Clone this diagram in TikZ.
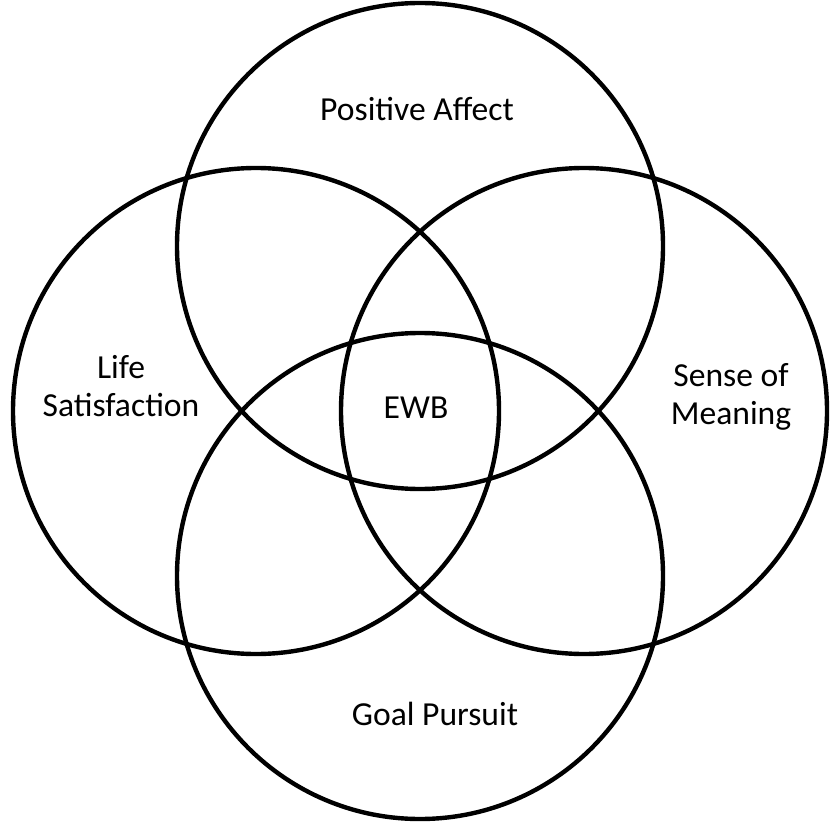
\documentclass[tikz,border=0pt]{standalone}
\usepackage{fontspec}
\setmainfont{Carlito}
\begin{document}
\begin{tikzpicture}[x=0.5pt,y=-0.5pt,
  ring/.style={circle,draw=black,line width=2.2pt,minimum size=243pt,inner sep=0pt},
  lbl/.style={font=\fontsize{16.8}{19}\selectfont,align=center,inner sep=0pt,text=black}]
\useasboundingbox (0,0) rectangle (839,823);
\node[ring] (top) at (420,246) {};
\node[ring] (left) at (256,411) {};
\node[ring] (right) at (584,411) {};
\node[ring] (bottom) at (420,576) {};
\node[lbl,anchor=base] (pa) at (417,121) {Positive Affect};
\node[lbl] (ls) at (121,386) {Life\\Satisfaction};
\node[lbl] (sm) at (731,397) {Sense of\\Meaning};
\node[lbl,anchor=base] (ewb) at (416,418) {EWB};
\node[lbl,anchor=base] (gp) at (435,725) {Goal Pursuit};
\end{tikzpicture}
\end{document}
